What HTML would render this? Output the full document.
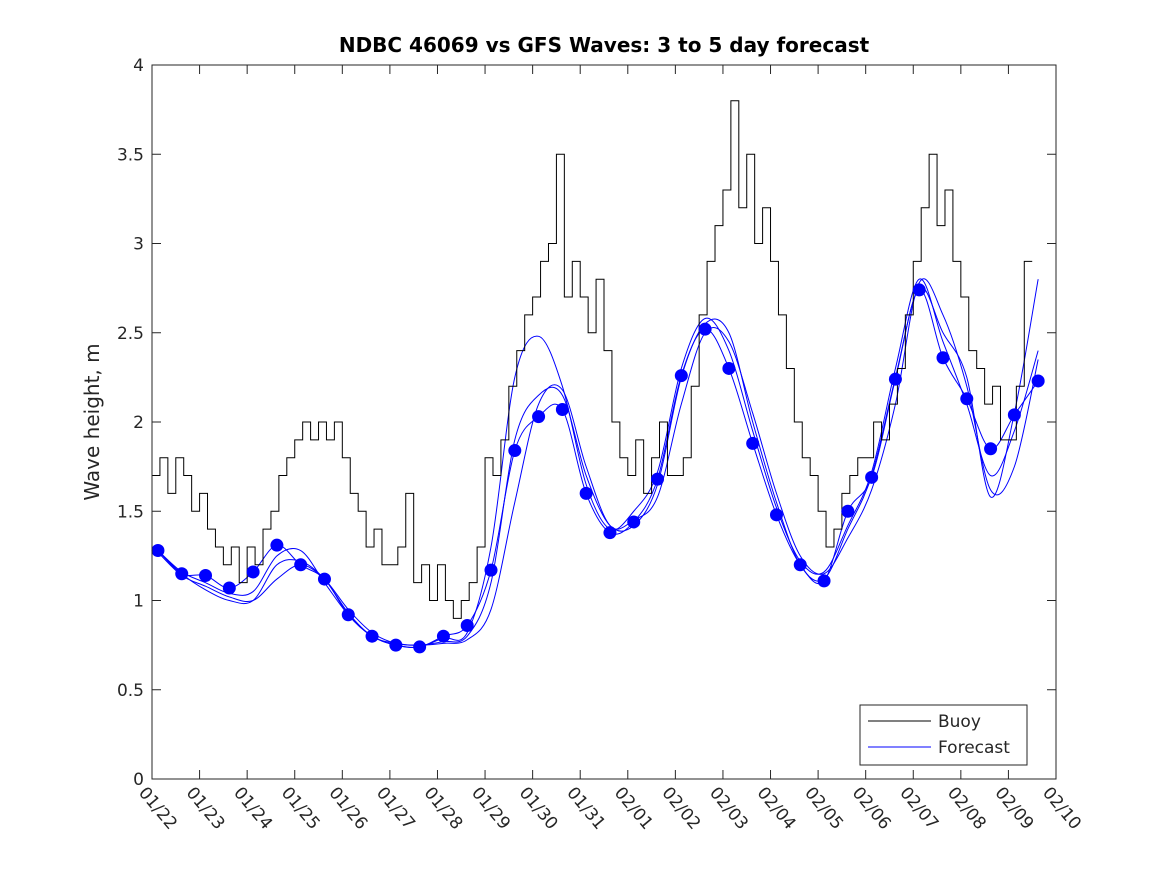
<!DOCTYPE html>
<html><head><meta charset="utf-8"><style>
body{margin:0;background:#fff}
svg text{font-family:"DejaVu Sans","Liberation Sans",sans-serif;fill:#262626}
</style></head><body>
<svg id="chart" width="1167" height="875" xmlns="http://www.w3.org/2000/svg">
<rect width="1167" height="875" fill="#fff"/>
<text x="604" y="52" text-anchor="middle" font-size="20" font-weight="bold" style="fill:#000">NDBC 46069 vs GFS Waves: 3 to 5 day forecast</text>
<text transform="translate(99,422) rotate(-90)" text-anchor="middle" font-size="20">Wave height, m</text>
<g id="grid"></g>
<g id="series"></g>
<rect x="152" y="65" width="904" height="714" fill="none" stroke="#262626" stroke-width="1"/>
<g>
<rect x="860" y="705" width="167" height="60" fill="#fff" stroke="#262626"/>
<line x1="868" y1="721" x2="931" y2="721" stroke="#000"/>
<text x="938" y="727" font-size="17">Buoy</text>
<line x1="868" y1="747" x2="931" y2="747" stroke="#0000ff"/>
<text x="938" y="753" font-size="17">Forecast</text>
</g>
</svg>
<script>
const xLabels=["01/22","01/23","01/24","01/25","01/26","01/27","01/28","01/29","01/30","01/31","02/01","02/02","02/03","02/04","02/05","02/06","02/07","02/08","02/09","02/10"];
const yTicks=[0,0.5,1,1.5,2,2.5,3,3.5,4];
const buoy=[1.7,1.8,1.6,1.8,1.7,1.5, 1.6,1.4,1.3,1.2,1.3,1.1, 1.3,1.2,1.4,1.5,1.7,1.8, 1.9,2.0,1.9,2.0,1.9,2.0, 1.8,1.6,1.5,1.3,1.4,1.2, 1.2,1.3,1.6,1.1,1.2,1.0, 1.2,1.0,0.9,1.0,1.1,1.3, 1.8,1.7,1.9,2.2,2.4,2.6, 2.7,2.9,3.0,3.5,2.7,2.9, 2.7,2.5,2.8,2.4,2.0,1.8, 1.7,1.9,1.6,1.8,2.0,1.7, 1.7,1.8,2.2,2.6,2.9,3.1, 3.3,3.8,3.2,3.5,3.0,3.2, 2.9,2.6,2.3,2.0,1.8,1.7, 1.5,1.3,1.4,1.6,1.7,1.8, 1.8,2.0,1.9,2.1,2.3,2.6, 2.9,3.2,3.5,3.1,3.3,2.9, 2.7,2.4,2.3,2.1,2.2,1.9, 1.9,2.2,2.9];
const buoyStep=1/6;
const fcDots=[1.28,1.15,1.14,1.07,1.16,1.31,1.20,1.12,0.92,0.80,0.75,0.74,0.80,0.86,1.17,1.84,2.03,2.07,1.60,1.38,1.44,1.68,2.26,2.52,2.30,1.88,1.48,1.20,1.11,1.50,1.69,2.24,2.74,2.36,2.13,1.85,2.04,2.23];
const runA=[1.27,1.14,1.08,1.02,1.0,1.12,1.20,1.12,0.95,0.82,0.76,0.75,0.76,0.78,0.95,1.55,2.10,2.18,1.75,1.42,1.45,1.58,2.1,2.50,2.45,2.05,1.60,1.25,1.15,1.35,1.62,2.10,2.78,2.60,2.20,1.62,1.75,2.35];
const runB=[1.28,1.16,1.10,1.04,1.05,1.25,1.28,1.10,0.92,0.80,0.75,0.74,0.79,0.82,1.30,2.25,2.48,2.20,1.65,1.40,1.50,1.72,2.3,2.58,2.40,1.95,1.52,1.22,1.16,1.42,1.72,2.30,2.80,2.45,2.10,1.70,1.95,2.40];
const runC=[1.28,1.15,1.06,1.00,1.00,1.20,1.22,1.12,0.93,0.80,0.76,0.75,0.77,0.80,1.10,1.90,2.15,2.15,1.70,1.42,1.42,1.65,2.25,2.55,2.50,2.00,1.55,1.20,1.12,1.40,1.70,2.25,2.75,2.50,2.25,1.58,2.05,2.80];
const fcStart=0.125, fcStep=0.5;
const X0=152,X1=1056,Y0=779,Y1=65;
const xs=d=>X0+d*(X1-X0)/19;
const ys=v=>Y0-v*(Y0-Y1)/4;
const NS="http://www.w3.org/2000/svg";
const grid=document.getElementById('grid'),ser=document.getElementById('series');
function mk(tag,attrs,parent){const e=document.createElementNS(NS,tag);for(const k in attrs)e.setAttribute(k,attrs[k]);parent.appendChild(e);return e;}
xLabels.forEach((l,i)=>{const x=xs(i);
 const t=mk('line',{x1:x,y1:Y0,x2:x,y2:Y0-9,stroke:'#262626'},grid);
 
 
 const t2=mk('line',{x1:x,y1:Y1,x2:x,y2:Y1+9,stroke:'#262626'},grid);
 
 
 const tx=mk('text',{transform:`translate(${x-14},${Y0+14}) rotate(50)`,'font-size':17},grid);
 tx.textContent=l;
 
 
});
yTicks.forEach(v=>{const y=ys(v);
 const t=mk('line',{x1:X0,y1:y,x2:X0+9,y2:y,stroke:'#262626'},grid);
 
 
 const t2=mk('line',{x1:X1,y1:y,x2:X1-9,y2:y,stroke:'#262626'},grid);
 
 
 const tx=mk('text',{x:X0-8,y:y+6,'text-anchor':'end','font-size':17},grid);
 tx.textContent=String(v);
 
 
});
function smooth(pts){let d=`M${pts[0][0]},${pts[0][1]}`;for(let i=0;i<pts.length-1;i++){const p0=pts[i-1]||pts[i],p1=pts[i],p2=pts[i+1],p3=pts[i+2]||p2;
 d+=` C${p1[0]+(p2[0]-p0[0])/6},${p1[1]+(p2[1]-p0[1])/6} ${p2[0]-(p3[0]-p1[0])/6},${p2[1]-(p3[1]-p1[1])/6} ${p2[0]},${p2[1]}`;}return d;}
[runA,runB,runC,fcDots].forEach((r,k)=>{
 const pts=r.map((v,i)=>[xs(fcStart+i*fcStep),ys(v)]);
 const p=mk('path',{d:smooth(pts),fill:'none',stroke:'#0000ff','stroke-width':1},ser);
 
 
});
let bp='';
buoy.forEach((v,i)=>{const x0=xs(i*buoyStep),x1=xs((i+1)*buoyStep),y=ys(v);bp+=`${x0},${y} ${x1},${y} `;});
const bl=mk('polyline',{points:bp,fill:'none',stroke:'#000','stroke-width':1},ser);


fcDots.forEach((v,i)=>{
 const c=mk('circle',{cx:xs(fcStart+i*fcStep),cy:ys(v),r:6.5,fill:'#0000ff'},ser);
 
 
});
</script>
</body></html>
